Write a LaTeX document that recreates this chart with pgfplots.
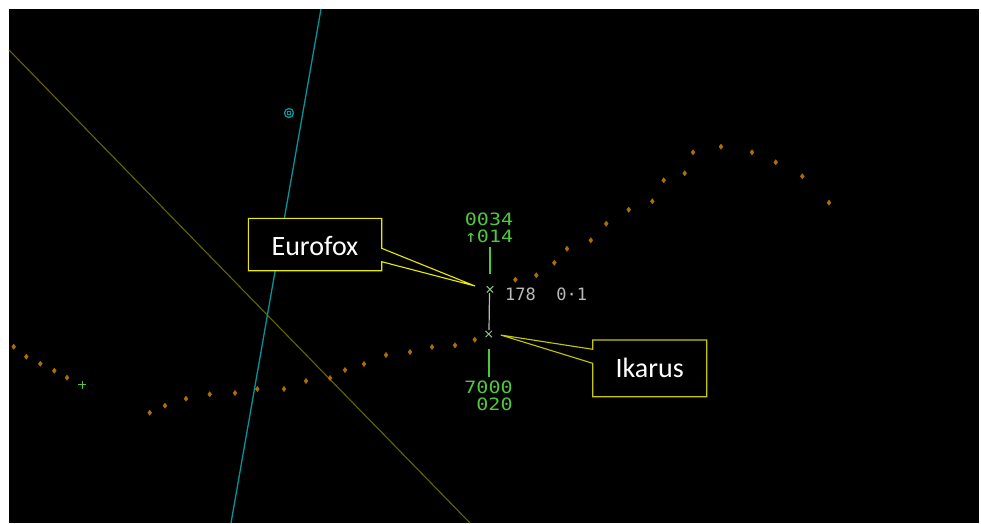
\documentclass[border=0pt]{standalone}
\usepackage{pgfplots}
\pgfplotsset{compat=1.18}
\usepackage{fontspec}
\setmainfont{Carlito}
\newfontfamily\radar{DejaVu Sans Mono}
\definecolor{trk}{RGB}{175,110,0}
\definecolor{cyanl}{RGB}{0,150,155}
\definecolor{olivel}{RGB}{100,100,0}
\definecolor{rgreen}{RGB}{80,200,60}
\definecolor{rgray}{RGB}{185,185,185}
\definecolor{cyel}{RGB}{235,235,0}
\begin{document}
\begin{tikzpicture}
\begin{axis}[
  scale only axis, width=981pt, height=523pt,
  xmin=0, xmax=981, ymin=0, ymax=523, y dir=reverse,
  hide axis, clip=true,
]
% background
\addplot[fill=white, draw=none] coordinates {(0,0) (981,0) (981,523) (0,523)} -- cycle;
\addplot[fill=black, draw=none] coordinates {(9,9) (979,9) (979,523) (9,523)} -- cycle;
% lines
\addplot[olivel, line width=1.1pt] coordinates {(9,50) (470,523)};
\addplot[cyanl, line width=1.3pt] coordinates {(321,9) (231,523)};
% beacon symbol
\addplot[cyanl, only marks, mark=o, mark size=4.5pt, mark options={line width=1.3pt}] coordinates {(289,113)};
\addplot[cyanl, only marks, mark=square, mark size=1.7pt, mark options={line width=0.9pt}] coordinates {(289,113)};
% track dots
\addplot[trk, only marks, mark=diamond*, mark size=2.6pt] coordinates {
(13.7,346.7) (26.3,356.7) (40.3,363.7) (54.3,370.7) (67,377.7)
(149.7,412.7) (165,405.7) (186,398.7) (209.7,394.3) (235,393) (257.3,389) (284,389)
(306,381) (330,378) (345,370) (364,364) (386,355) (410,352) (432,347) (455,345.3) (474.7,339.7)
(515.3,279.7) (536.3,275.3) (554.3,262.8) (567,248.8) (590.8,240.3) (606.2,223.7)
(628.7,209.7) (652.3,201.3) (663.7,180.3) (684.7,173.3) (693,152.3) (721,146.7)
(752,152.3) (775.7,162.3) (802.3,176.3) (829,202.7)};
% green plus
\addplot[rgreen, only marks, mark=+, mark size=4pt, mark options={line width=1.2pt}] coordinates {(82.3,384.7)};
% leader lines
\addplot[rgreen, line width=1.4pt] coordinates {(490,247) (490,274)};
\addplot[rgreen, line width=1.4pt] coordinates {(489,349) (489,377)};
\addplot[rgray, line width=1.2pt] coordinates {(489.5,293) (489,330)};
% aircraft
\addplot[rgray!60!rgreen, only marks, mark=x, mark size=4.5pt, mark options={line width=1pt}] coordinates {(490,289.3) (488.7,334)};
% callouts
\addplot[fill=black, draw=cyel, line width=1.1pt] coordinates {(248.3,218.3) (381.7,218.3) (381.7,248.3) (475,286) (381.7,261.7) (381.7,270.7) (248.3,270.7)} -- cycle;
\addplot[fill=black, draw=cyel!85!black, line width=1.1pt] coordinates {(592.7,340) (706.7,340) (706.7,396.7) (592.7,396.7) (592.7,363.3) (500.7,335) (592.7,349.3)} -- cycle;
% texts
\node[anchor=base, text=white, font=\fontsize{28}{32}\selectfont, inner sep=0pt] at (axis cs:315,255) {Eurofox};
\node[anchor=base, text=white, font=\fontsize{28}{32}\selectfont, inner sep=0pt] at (axis cs:649.7,377) {Ikarus};
\node[anchor=base, text=rgreen, font=\radar\fontsize{17}{20}\selectfont, inner sep=0pt, xscale=1.18] at (axis cs:489,225) {0034};
\node[anchor=base, text=rgreen, font=\radar\fontsize{17}{20}\selectfont, inner sep=0pt, xscale=1.18] at (axis cs:489,242) {↑014};
\node[anchor=base, text=rgreen, font=\radar\fontsize{17}{20}\selectfont, inner sep=0pt, xscale=1.18] at (axis cs:488.5,393) {7000};
\node[anchor=base, text=rgreen, font=\radar\fontsize{17}{20}\selectfont, inner sep=0pt, xscale=1.18] at (axis cs:494.5,410) {020};
\node[anchor=base west, text=rgray, font=\radar\fontsize{17}{20}\selectfont, inner sep=0pt] at (axis cs:505,300) {178\ \ 0·1};
\end{axis}
\end{tikzpicture}
\end{document}
